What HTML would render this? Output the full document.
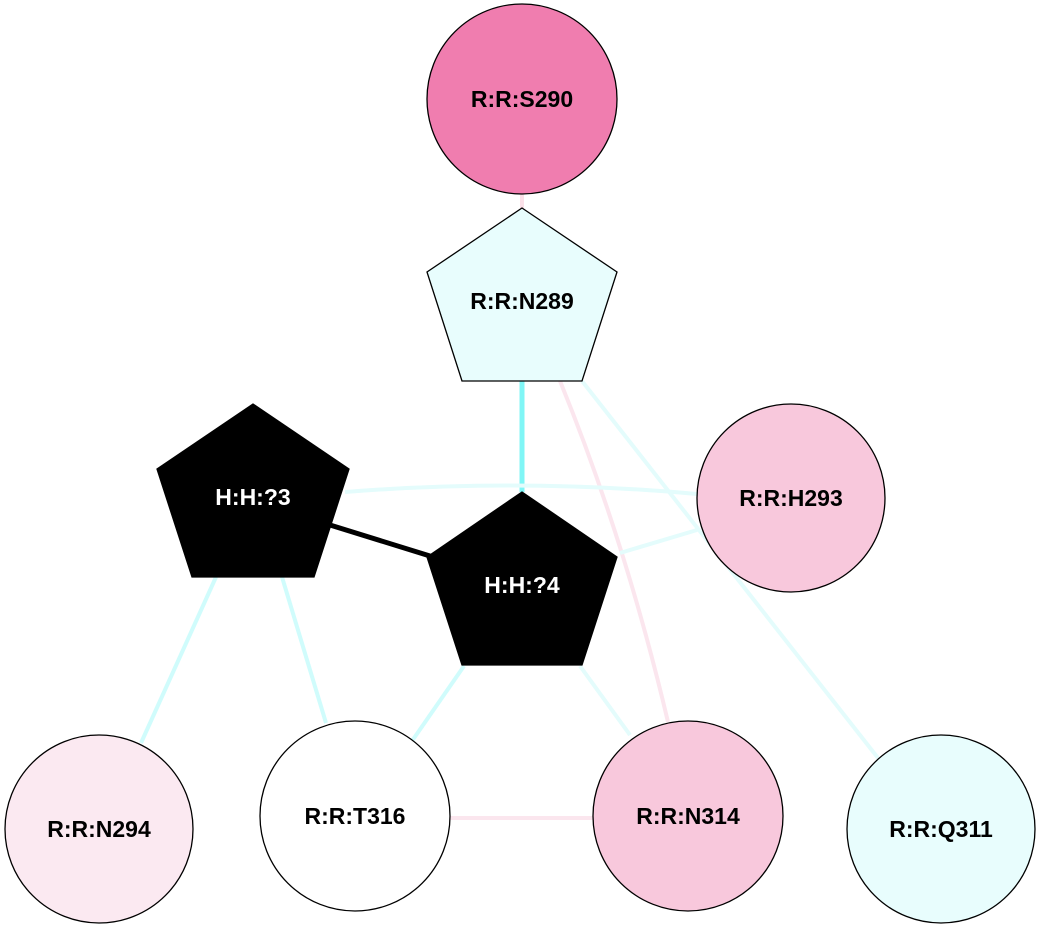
<!DOCTYPE html>
<html><head><meta charset="utf-8"><style>html,body{margin:0;padding:0;background:#fff}</style></head>
<body>
<svg width="1045" height="932" viewBox="0 0 1045 932" xmlns="http://www.w3.org/2000/svg" font-family="Liberation Sans, Arial, sans-serif" font-weight="bold" font-size="23" text-anchor="middle">
<g fill="none" stroke-width="4">
<line x1="522" y1="194" x2="522" y2="210" stroke="#fbe0e8"/>
<line x1="522" y1="381" x2="522" y2="492" stroke="#80f6f6" stroke-width="5"/>
<path d="M560 381 Q625 540 668 722" stroke="#fbe6ee"/>
<line x1="582" y1="381" x2="878" y2="758" stroke="#e4fcfc"/>
<path d="M345 492 Q522 478 697 494" stroke="#e4fcfc"/>
<line x1="620" y1="553" x2="697" y2="530" stroke="#e4fcfc"/>
<line x1="330" y1="525" x2="430" y2="556" stroke="#000" stroke-width="5"/>
<line x1="216" y1="577" x2="141" y2="743" stroke="#d0fcfc"/>
<line x1="282" y1="577" x2="326" y2="723" stroke="#d0fcfc"/>
<line x1="464" y1="666" x2="412" y2="741" stroke="#d0fcfc"/>
<line x1="580" y1="666" x2="630" y2="735" stroke="#e4fcfc"/>
<line x1="450" y1="818" x2="594" y2="818" stroke="#fbe6ee"/>
</g>
<g stroke="#000" stroke-width="1.3">
<circle cx="522" cy="99" r="95" fill="#f07daf"/>
<polygon points="522,208 617,272 582,381 462,381 427,272" fill="#e8fdfd"/>
<polygon points="253,404 349,469 314,577 192,577 157,469" fill="#000"/>
<polygon points="522,492 617,557 582,665 462,665 427,557" fill="#000"/>
<circle cx="791" cy="498" r="94" fill="#f8c8dc"/>
<circle cx="99" cy="829" r="94" fill="#fbe9f1"/>
<circle cx="355" cy="816" r="95" fill="#fff"/>
<circle cx="688" cy="816" r="95" fill="#f8c8dc"/>
<circle cx="941" cy="829" r="94" fill="#e8fdfd"/>
</g>
<text x="522" y="107">R:R:S290</text>
<text x="522" y="309">R:R:N289</text>
<text x="253" y="505" fill="#fff">H:H:?3</text>
<text x="522" y="593" fill="#fff">H:H:?4</text>
<text x="791" y="506">R:R:H293</text>
<text x="99" y="837">R:R:N294</text>
<text x="355" y="824">R:R:T316</text>
<text x="688" y="824">R:R:N314</text>
<text x="941" y="837">R:R:Q311</text>
</svg>
</body></html>
